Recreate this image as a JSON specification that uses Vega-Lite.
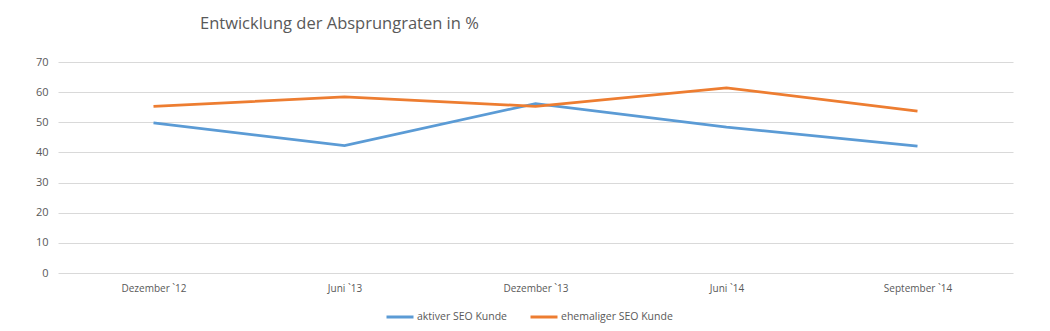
{
  "$schema": "https://vega.github.io/schema/vega-lite/v6.json",
  "width": 955,
  "height": 211,
  "autosize": {"type": "none"},
  "padding": {"left": 58, "top": 62, "right": 37, "bottom": 58},
  "background": "white",
  "title": {
    "text": "Entwicklung der Absprungraten in %",
    "anchor": "start",
    "frame": "group",
    "dx": 142,
    "offset": 24,
    "fontSize": 16.5,
    "font": "Open Sans",
    "fontWeight": "normal",
    "color": "#595959"
  },
  "config": {"view": {"stroke": null}},
  "data": {
    "values": [
      {"Zeitraum": "Dezember `12", "Serie": "aktiver SEO Kunde", "Wert": 49.8},
      {"Zeitraum": "Juni `13", "Serie": "aktiver SEO Kunde", "Wert": 42.3},
      {"Zeitraum": "Dezember `13", "Serie": "aktiver SEO Kunde", "Wert": 56.2},
      {"Zeitraum": "Juni `14", "Serie": "aktiver SEO Kunde", "Wert": 48.4},
      {"Zeitraum": "September `14", "Serie": "aktiver SEO Kunde", "Wert": 42.1},
      {"Zeitraum": "Dezember `12", "Serie": "ehemaliger SEO Kunde", "Wert": 55.3},
      {"Zeitraum": "Juni `13", "Serie": "ehemaliger SEO Kunde", "Wert": 58.4},
      {"Zeitraum": "Dezember `13", "Serie": "ehemaliger SEO Kunde", "Wert": 55.3},
      {"Zeitraum": "Juni `14", "Serie": "ehemaliger SEO Kunde", "Wert": 61.4},
      {"Zeitraum": "September `14", "Serie": "ehemaliger SEO Kunde", "Wert": 53.7}
    ]
  },
  "mark": {"type": "line", "strokeWidth": 2.75},
  "encoding": {
    "x": {
      "field": "Zeitraum",
      "type": "nominal",
      "sort": ["Dezember `12", "Juni `13", "Dezember `13", "Juni `14", "September `14"],
      "scale": {"padding": 0.5},
      "axis": {
        "title": null,
        "labelAngle": 0,
        "grid": false,
        "ticks": false,
        "domain": false,
        "labelPadding": 10,
        "labelFontSize": 10,
        "labelFont": "Open Sans",
        "labelColor": "#595959"
      }
    },
    "y": {
      "field": "Wert",
      "type": "quantitative",
      "scale": {"domain": [0, 70]},
      "axis": {
        "title": null,
        "values": [0, 10, 20, 30, 40, 50, 60, 70],
        "ticks": false,
        "domain": false,
        "gridColor": "#d9d9d9",
        "gridWidth": 1,
        "labelPadding": 10,
        "labelFontSize": 11,
        "labelFont": "Open Sans",
        "labelColor": "#595959"
      }
    },
    "color": {
      "field": "Serie",
      "type": "nominal",
      "scale": {
        "domain": ["aktiver SEO Kunde", "ehemaliger SEO Kunde"],
        "range": ["#5B9BD5", "#ED7D31"]
      },
      "legend": {
        "title": null,
        "orient": "none",
        "direction": "horizontal",
        "legendX": 327,
        "legendY": 240,
        "symbolType": "stroke",
        "symbolSize": 729,
        "symbolStrokeWidth": 3,
        "labelOffset": 2,
        "columnPadding": 16,
        "labelFontSize": 10.5,
        "labelFont": "Open Sans",
        "labelColor": "#595959"
      }
    }
  }
}
